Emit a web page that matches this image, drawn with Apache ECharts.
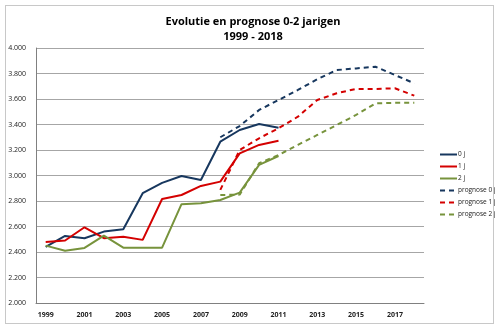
<!DOCTYPE html>
<html><head><meta charset="utf-8">
<script src="https://cdn.jsdelivr.net/npm/echarts@6/dist/echarts.min.js"></script>
<style>html,body{margin:0;padding:0;background:#fff}#c{width:500px;height:328px}
#frame{position:absolute;left:5px;top:5px;width:487px;height:317px;border:1px solid #c8c8c8;pointer-events:none}</style>
</head><body><div id="c"></div><div id="frame"></div>
<script>
var years = ['1999','2000','2001','2002','2003','2004','2005','2006','2007','2008','2009','2010','2011','2012','2013','2014','2015','2016','2017','2018'];
var j0 = [2440,2526,2508,2560,2578,2861,2942,2996,2965,3265,3357,3404,3375,null,null,null,null,null,null,null];
var j1 = [2479,2490,2594,2508,2520,2495,2816,2847,2918,2952,3174,3240,3273,null,null,null,null,null,null,null];
var j2 = [2450,2410,2432,2528,2434,2434,2434,2775,2782,2808,2866,3083,3153,null,null,null,null,null,null,null];
var p0 = [null,null,null,null,null,null,null,null,null,3300,3388,3514,3592,3671,3755,3827,3840,3853,3788,3723];
var p1 = [null,null,null,null,null,null,null,null,null,2887,3200,3292,3370,3461,3592,3645,3679,3679,3684,3626];
var p2 = [null,null,null,null,null,null,null,null,null,2847,2850,3096,3161,3240,3318,3396,3475,3566,3570,3570];
var yTicks = {min:2000, max:4000, step:200};

var blue='#17375E', red='#D40000', green='#77933C';
var font='"Open Sans", "Liberation Sans", sans-serif';
function s(name,data,color,dashed){
  return {name:name,type:'line',data:data,symbol:'none',showSymbol:false,connectNulls:false,
    lineStyle:{color:color,width:2,type:dashed?[5,4]:'solid'},itemStyle:{color:color}};
}
var chart = echarts.init(document.getElementById('c'));
chart.setOption({
  animation:false,
  title:{text:'Evolutie en prognose 0-2 jarigen\n1999 - 2018',left:248,top:9,textAlign:'center',
    textStyle:{fontFamily:font,fontSize:11,fontWeight:'bold',color:'#000',lineHeight:15}},
  grid:{left:36,right:76,top:48,bottom:25},
  legend:{orient:'vertical',left:434,top:146,itemWidth:17,itemHeight:6,itemGap:5,
    itemStyle:{opacity:0},
    textStyle:{fontFamily:font,fontSize:6.5,color:'#222',padding:[0,0,0,-4]},
    data:['0 j','1 j','2 j','prognose 0 j','prognose 1 j','prognose 2 j']},
  xAxis:{type:'category',data:years,boundaryGap:true,
    axisLine:{lineStyle:{color:'#808080',width:1}},axisTick:{show:false},
    axisLabel:{interval:1,fontFamily:font,fontSize:7,fontWeight:'bold',color:'#222',margin:8}},
  yAxis:{type:'value',min:yTicks.min,max:yTicks.max,interval:yTicks.step,
    axisLine:{show:true,lineStyle:{color:'#808080',width:1}},axisTick:{show:false},
    splitLine:{lineStyle:{color:'#a6a6a6',width:1}},
    axisLabel:{fontFamily:font,fontSize:7,color:'#222',margin:10,
      formatter:function(v){var t=String(v);return t.slice(0,t.length-3)+'.'+t.slice(-3);}}},
  series:[s('0 j',j0,blue,false),s('1 j',j1,red,false),s('2 j',j2,green,false),
    s('prognose 0 j',p0,blue,true),s('prognose 1 j',p1,red,true),s('prognose 2 j',p2,green,true)]
});
</script></body></html>
